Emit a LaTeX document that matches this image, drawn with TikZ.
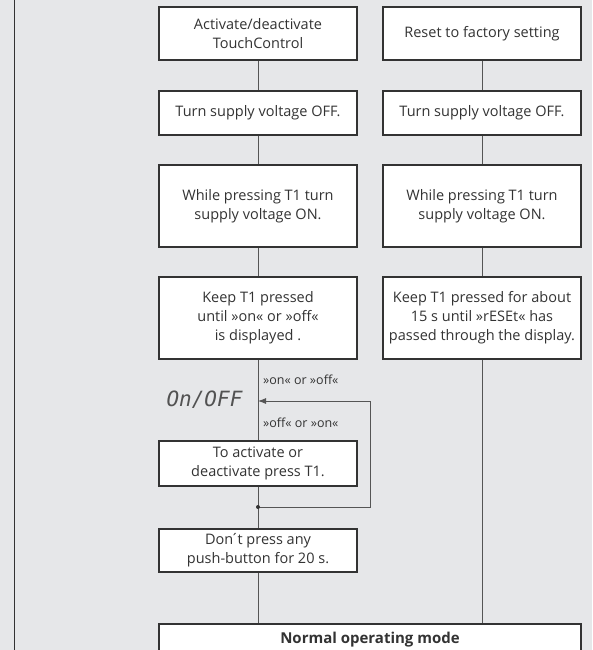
\documentclass[tikz,border=0pt]{standalone}
\usepackage{fontspec}
\setmainfont{Open Sans}
\usetikzlibrary{arrows.meta}
\definecolor{bg}{HTML}{E6E7E9}
\definecolor{txt}{HTML}{333333}
\definecolor{frm}{HTML}{333333}
\definecolor{conn}{HTML}{555555}
\newfontfamily\segfont{DejaVu Sans Mono}
\tikzset{
  stepbox/.style={draw=frm, fill=white, line width=1.1pt, minimum width=198pt, inner sep=0pt,
     align=center, text=txt, font=\fontsize{14.5}{19}\selectfont},
  conline/.style={draw=conn, line width=0.9pt},
  lbl/.style={anchor=west, inner sep=0pt, text=txt, font=\fontsize{12.5}{14}\selectfont}
}
\begin{document}
\begin{tikzpicture}[x=1pt,y=-1pt]
\fill[bg] (0,0) rectangle (592,650);
\useasboundingbox (0,0) rectangle (592,650);
\clip (0,0) rectangle (592,650);
\draw[draw=frm, line width=1pt] (14.5,-2) -- (14.5,652);
% left column
\node[stepbox, minimum height=53pt] (b1L) at (258,33.5) {Activate/deactivate\\TouchControl};
\node[stepbox, minimum height=44pt] (b2L) at (258,113) {Turn supply voltage OFF.};
\node[stepbox, minimum height=82pt] (b3L) at (258,206) {While pressing T1 turn\\supply voltage ON.};
\node[stepbox, minimum height=82pt] (b4L) at (258,318) {Keep T1 pressed\\until »on« or »off«\\is displayed .};
\node[stepbox, minimum height=45pt] (b5L) at (258,463.5) {To activate or\\deactivate press T1.};
\node[stepbox, minimum height=43pt] (b6L) at (258,550.5) {Don\kern-2.5pt´\kern-1.5pt t press any\\push-button for 20 s.};
% right column
\node[stepbox, minimum height=53pt] (b1R) at (482,33.5) {Reset to factory setting};
\node[stepbox, minimum height=44pt] (b2R) at (482,113) {Turn supply voltage OFF.};
\node[stepbox, minimum height=82pt] (b3R) at (482,206) {While pressing T1 turn\\supply voltage ON.};
\node[stepbox, minimum height=82pt] (b4R) at (482,318) {Keep T1 pressed for about\\15 s until »rESEt« has\\passed through the display.};
% bottom
\node[stepbox, minimum width=422pt, minimum height=32pt, font=\fontsize{15}{19}\selectfont\bfseries] (norm) at (370,640) {Normal operating mode};
% display text and labels
\node[inner sep=0pt, text=txt!85, font=\segfont\fontsize{21}{22}\selectfont\slshape] (disp) at (204.5,400) {On/OFF};
\node[lbl] (l1) at (263,380) {»on« or »off«};
\node[lbl] (l2) at (263,423) {»off« or »on«};
% connectors
\coordinate (ain) at (258,401);
\coordinate (j) at (258,507);
\coordinate (lr) at (370,507);
\coordinate (ur) at (370,401);
\draw[conline] (b1L) -- (b2L);
\draw[conline] (b2L) -- (b3L);
\draw[conline] (b3L) -- (b4L);
\draw[conline] (b4L) -- (b5L);
\draw[conline] (b5L) -- (b6L);
\draw[conline] (b6L.south) -- (b6L.south |- norm.north);
\draw[conline] (b1R) -- (b2R);
\draw[conline] (b2R) -- (b3R);
\draw[conline] (b3R) -- (b4R);
\draw[conline] (b4R.south) -- (b4R.south |- norm.north);
\draw[conline, -{Latex[length=8pt,width=6pt]}] (j) -- (lr) -- (ur) -- (ain);
\fill[conn!60!black] (j) circle (2pt);
\end{tikzpicture}
\end{document}
